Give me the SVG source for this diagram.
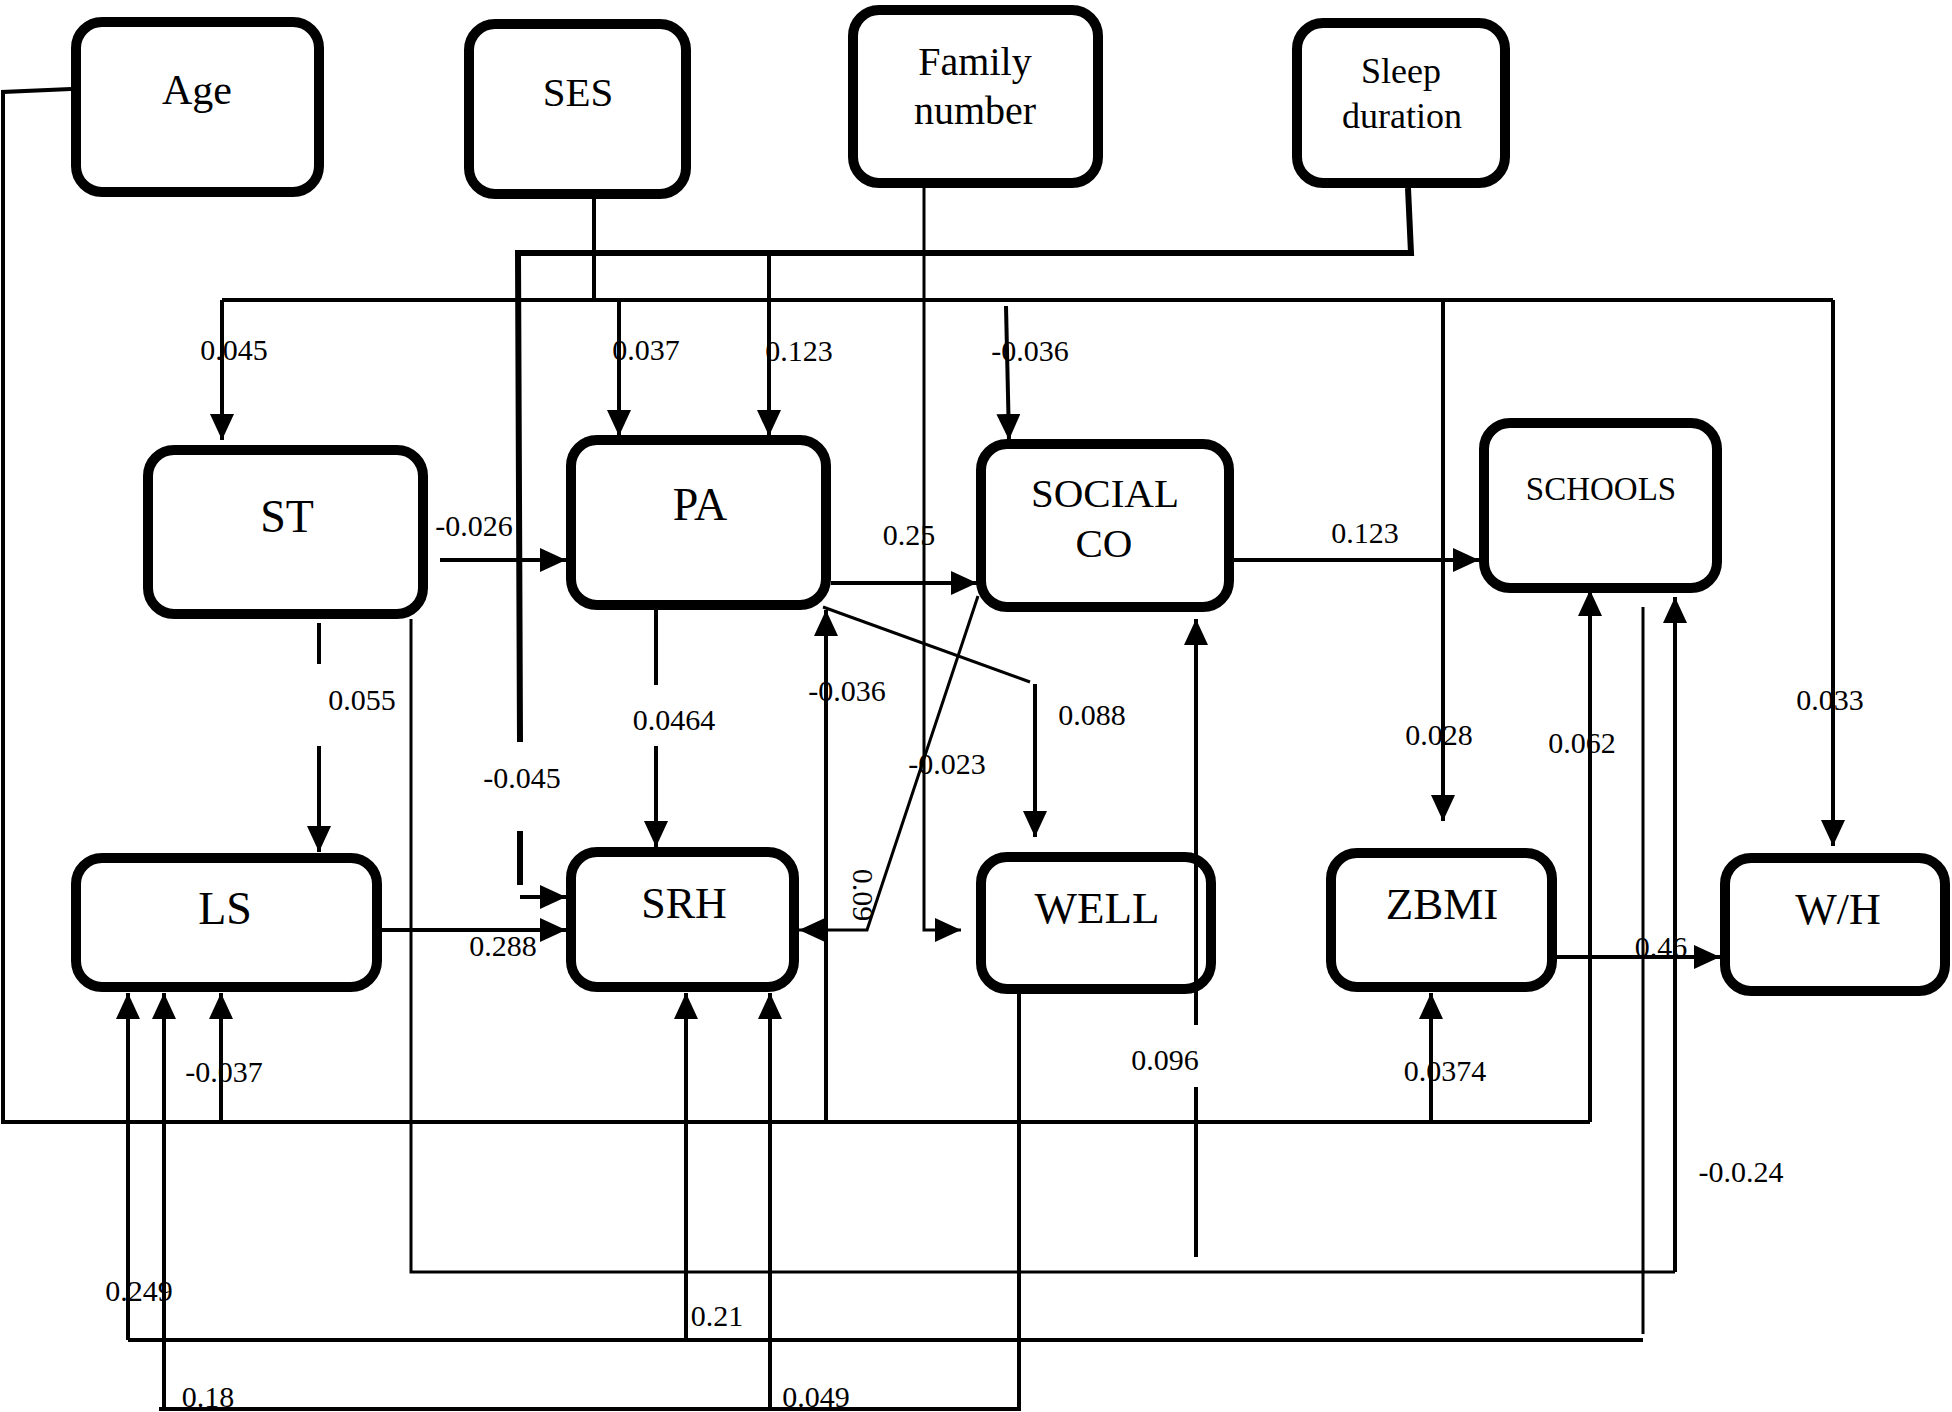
<svg xmlns="http://www.w3.org/2000/svg" width="1952" height="1412" viewBox="0 0 1952 1412">
<style>
.node rect{fill:none;stroke:#000;stroke-width:10}
.nt{font-family:"Liberation Serif","Times New Roman",serif;fill:#000;text-anchor:middle}
.lb{font-family:"Liberation Serif","Times New Roman",serif;font-size:30px;fill:#000;text-anchor:middle}
.c path{fill:none;stroke:#000;stroke-width:4}
.c path.t{stroke-width:3}
.c path.k{stroke-width:6}
</style>
<defs>
<marker id="ah" markerUnits="userSpaceOnUse" markerWidth="26" markerHeight="24" viewBox="0 0 26 24" refX="26" refY="12" orient="auto">
<path d="M0,0 L26,12 L0,24 z" fill="#000"/>
</marker>
</defs>
<rect width="1952" height="1412" fill="#fff"/>

<g id="nodes">
<g class="node" id="n-age"><rect x="76" y="22" width="243" height="170" rx="26"/><text class="nt" x="197" y="104" font-size="42">Age</text></g>
<g class="node" id="n-ses"><rect x="469" y="24" width="217" height="170" rx="26"/><text class="nt" x="578" y="106" font-size="41">SES</text></g>
<g class="node" id="n-family"><rect x="853" y="10" width="245" height="173" rx="26"/><text class="nt" x="975" y="75" font-size="40">Family</text><text class="nt" x="975" y="124" font-size="40">number</text></g>
<g class="node" id="n-sleep"><rect x="1297" y="23" width="208" height="160" rx="26"/><text class="nt" x="1401" y="83" font-size="36">Sleep</text><text class="nt" x="1402" y="128" font-size="36">duration</text></g>
<g class="node" id="n-st"><rect x="148" y="450" width="275" height="164" rx="26"/><text class="nt" x="287" y="532" font-size="46">ST</text></g>
<g class="node" id="n-pa"><rect x="571" y="440" width="255" height="165" rx="26"/><text class="nt" x="700" y="520" font-size="46">PA</text></g>
<g class="node" id="n-social"><rect x="981" y="444" width="248" height="163" rx="26"/><text class="nt" x="1105" y="507" font-size="41">SOCIAL</text><text class="nt" x="1104" y="557" font-size="41">CO</text></g>
<g class="node" id="n-schools"><rect x="1484" y="423" width="233" height="165" rx="26"/><text class="nt" x="1601" y="500" font-size="33">SCHOOLS</text></g>
<g class="node" id="n-ls"><rect x="76" y="858" width="301" height="129" rx="26"/><text class="nt" x="225" y="924" font-size="46">LS</text></g>
<g class="node" id="n-srh"><rect x="571" y="852" width="223" height="135" rx="26"/><text class="nt" x="684" y="918" font-size="44">SRH</text></g>
<g class="node" id="n-well"><rect x="981" y="857" width="230" height="132" rx="26"/><text class="nt" x="1097" y="923" font-size="45">WELL</text></g>
<g class="node" id="n-zbmi"><rect x="1331" y="853" width="221" height="134" rx="26"/><text class="nt" x="1442" y="919" font-size="45">ZBMI</text></g>
<g class="node" id="n-wh"><rect x="1725" y="858" width="220" height="133" rx="26"/><text class="nt" x="1838" y="924" font-size="44">W/H</text></g>
</g>

<g id="connectors" class="c">
<!-- Age bus -->
<path d="M71,89 L3,92 L3,1122 L1590,1122"/>
<path d="M1590,1122 L1590,590" marker-end="url(#ah)"/>
<path d="M221,1122 L221,993" marker-end="url(#ah)"/>
<path d="M826,1122 L826,610" marker-end="url(#ah)"/>
<path d="M1431,1122 L1431,993" marker-end="url(#ah)"/>
<!-- SES bus -->
<path d="M594,199 L594,300"/>
<path d="M222,300 L1833,300"/>
<path d="M222,300 L222,440" marker-end="url(#ah)"/>
<path d="M619,300 L619,436" marker-end="url(#ah)"/>
<path d="M1006,306 L1009,440" marker-end="url(#ah)"/>
<path d="M1443,300 L1443,821" marker-end="url(#ah)"/>
<path d="M1833,300 L1833,846" marker-end="url(#ah)"/>
<!-- Sleep bus -->
<path class="k" d="M1408,188 L1411,253 L518,253 L520,742"/>
<path class="k" d="M520,831 L520,885"/>
<path d="M520,897 L566,897" marker-end="url(#ah)"/>
<path d="M769,253 L769,436" marker-end="url(#ah)"/>
<!-- Family -->
<path class="t" d="M924,188 L924,930 L961,930" marker-end="url(#ah)"/>
<!-- direct paths -->
<path d="M440,560 L566,560" marker-end="url(#ah)"/>
<path d="M319,623 L319,664"/>
<path d="M319,746 L319,852" marker-end="url(#ah)"/>
<path d="M656,610 L656,685"/>
<path d="M656,746 L656,847" marker-end="url(#ah)"/>
<path d="M382,930 L566,930" marker-end="url(#ah)"/>
<path d="M831,583 L977,583" marker-end="url(#ah)"/>
<path d="M1234,560 L1479,560" marker-end="url(#ah)"/>
<path d="M1557,957 L1720,957" marker-end="url(#ah)"/>
<path class="t" d="M823,607 L1030,682"/>
<path d="M1035,684 L1035,837" marker-end="url(#ah)"/>
<path class="t" d="M978,596 L867,930 L799,930" marker-end="url(#ah)"/>
<!-- ST to SCHOOLS -->
<path class="t" d="M411,619 L411,1272 L1675,1272"/>
<path d="M1675,1272 L1675,597" marker-end="url(#ah)"/>
<!-- SCHOOLS to LS / SRH -->
<path class="t" d="M1643,607 L1643,1334"/>
<path d="M1643,1340 L128,1340"/>
<path d="M128,1340 L128,993" marker-end="url(#ah)"/>
<path d="M686,1340 L686,993" marker-end="url(#ah)"/>
<!-- WELL to LS / SRH -->
<path d="M1019,994 L1019,1409 L159,1409"/>
<path d="M164,1407 L164,993" marker-end="url(#ah)"/>
<path d="M770,1407 L770,993" marker-end="url(#ah)"/>
<!-- 0.096 -->
<path d="M1196,1257 L1196,1087"/>
<path d="M1196,1025 L1196,619" marker-end="url(#ah)"/>
</g>

<g id="labels">
<text class="lb" x="234" y="360">0.045</text>
<text class="lb" x="646" y="360">0.037</text>
<text class="lb" x="799" y="361">0.123</text>
<text class="lb" x="1030" y="361">-0.036</text>
<text class="lb" x="474" y="536">-0.026</text>
<text class="lb" x="362" y="710">0.055</text>
<text class="lb" x="522" y="788">-0.045</text>
<text class="lb" x="674" y="730">0.0464</text>
<text class="lb" x="503" y="956">0.288</text>
<text class="lb" x="909" y="545" font-size="22">0.25</text>
<text class="lb" x="847" y="701">-0.036</text>
<text class="lb" x="1092" y="725">0.088</text>
<text class="lb" x="947" y="774">-0.023</text>
<text class="lb" transform="translate(863,895) rotate(90)" x="0" y="10">0.09</text>
<text class="lb" x="1365" y="543">0.123</text>
<text class="lb" x="1439" y="745">0.028</text>
<text class="lb" x="1582" y="753">0.062</text>
<text class="lb" x="1830" y="710">0.033</text>
<text class="lb" x="1661" y="957">0.46</text>
<text class="lb" x="224" y="1082">-0.037</text>
<text class="lb" x="139" y="1301">0.249</text>
<text class="lb" x="717" y="1326">0.21</text>
<text class="lb" x="208" y="1407">0.18</text>
<text class="lb" x="816" y="1407">0.049</text>
<text class="lb" x="1165" y="1070">0.096</text>
<text class="lb" x="1445" y="1081">0.0374</text>
<text class="lb" x="1741" y="1182">-0.0.24</text>
</g>
</svg>
